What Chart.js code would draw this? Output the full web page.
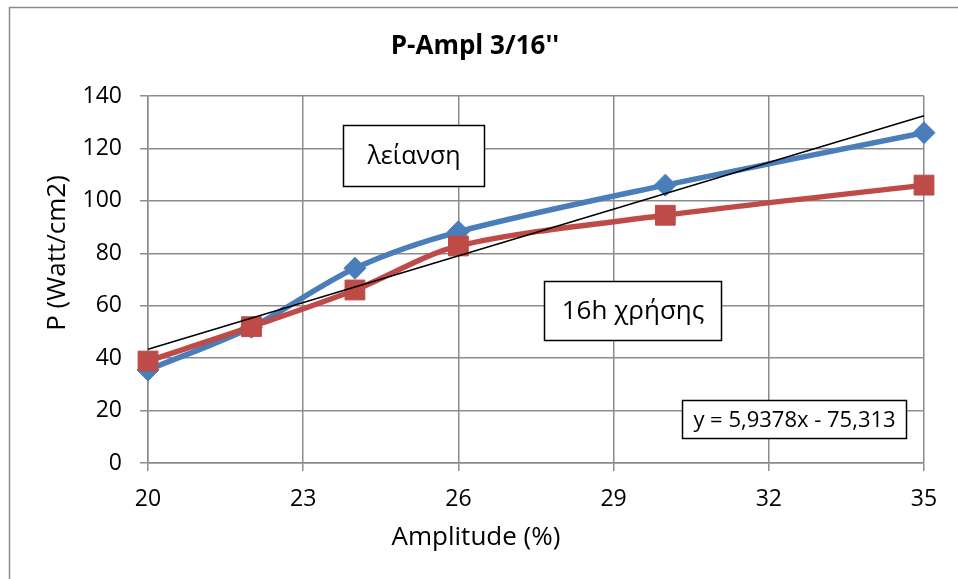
<!DOCTYPE html>
<html>
<head>
<meta charset="utf-8">
<script src="https://cdn.jsdelivr.net/npm/chart.js@4/dist/chart.umd.min.js"></script>
<style>
  html, body { margin: 0; padding: 0; background: #fff; }
  #wrap { width: 958px; height: 579px; position: relative; }
</style>
</head>
<body>
<div id="wrap"><canvas id="pChart" width="958" height="579"></canvas></div>
<script>
// values
const amplitudes = [20, 22, 24, 26, 30, 35];
const polished = [35.5, 51.8, 74.3, 88.2, 106, 126];   // λείανση
const used16h = [38.9, 52, 66, 82.8, 94.5, 106];       // 16h χρήσης
const trendX = [20, 35];
const trendY = [43.4, 132.5];                          // y = 5,9378x - 75,313
const xTicks = [20, 23, 26, 29, 32, 35];

const FONT = "'Open Sans', 'Noto Sans', sans-serif";

const toPoints = (xs, ys) => xs.map((x, i) => ({ x: x, y: ys[i] }));

const extras = {
  id: 'extras',
  beforeDraw(chart) {
    const ctx = chart.ctx;
    ctx.save();
    ctx.strokeStyle = '#8c8c8c';
    ctx.lineWidth = 1.5;
    ctx.strokeRect(9.5, 7.5, 1000, 700);
    ctx.restore();
  },
  afterDraw(chart) {
    const ctx = chart.ctx;
    ctx.save();
    ctx.fillStyle = '#000';
    ctx.textAlign = 'center';
    ctx.textBaseline = 'middle';
    ctx.font = "bold 26px " + FONT;
    ctx.fillText("P-Ampl 3/16''", 475, 47);

    // axis titles, centred the way the original is
    ctx.font = "26px " + FONT;
    ctx.fillText('Amplitude (%)', 476, 538);
    ctx.save();
    ctx.translate(58, 253);
    ctx.rotate(-Math.PI / 2);
    ctx.fillText('P (Watt/cm2)', 0, 0);
    ctx.restore();

    const box = (x, y, w, h, text, size) => {
      ctx.fillStyle = '#fff';
      ctx.fillRect(x, y, w, h);
      ctx.strokeStyle = '#000';
      ctx.lineWidth = 1.5;
      ctx.strokeRect(x, y, w, h);
      ctx.fillStyle = '#000';
      ctx.font = size + "px " + FONT;
      ctx.fillText(text, x + w / 2, y + h / 2 + 1);
    };
    box(343.5, 125.5, 141, 61, 'λείανση', 25);
    box(544.5, 281.5, 177, 59, '16h χρήσης', 26);
    box(682.5, 400.5, 224, 38, 'y = 5,9378x - 75,313', 22);
    ctx.restore();
  }
};

new Chart(document.getElementById('pChart'), {
  type: 'scatter',
  data: {
    datasets: [
      {
        label: 'trend',
        data: toPoints(trendX, trendY),
        showLine: true,
        borderColor: '#000',
        borderWidth: 1.5,
        pointRadius: 0,
        clip: false,
        order: 0
      },
      {
        label: 'λείανση',
        data: toPoints(amplitudes, polished),
        showLine: true,
        borderColor: '#4a7ebb',
        backgroundColor: '#4a7ebb',
        borderWidth: 5.5,
        tension: 0.3,
        pointStyle: 'rectRot',
        pointRadius: 11,
        pointBorderWidth: 1,
        clip: false,
        order: 2
      },
      {
        label: '16h χρήσης',
        data: toPoints(amplitudes, used16h),
        showLine: true,
        borderColor: '#be4b48',
        backgroundColor: '#be4b48',
        borderWidth: 5.5,
        tension: 0.3,
        pointStyle: 'rect',
        pointRadius: 14,
        pointBorderWidth: 1,
        clip: false,
        order: 1
      }
    ]
  },
  options: {
    responsive: false,
    animation: false,
    layout: { padding: { top: 96, right: 34, bottom: 0, left: 0 } },
    plugins: {
      legend: { display: false },
      tooltip: { enabled: false }
    },
    scales: {
      x: {
        type: 'linear',
        min: 20,
        max: 35,
        afterFit(scale) { scale.height = 116; },
        afterBuildTicks(scale) { scale.ticks = xTicks.map(v => ({ value: v })); },
        grid: { color: '#8c8c8c', lineWidth: 1.5, tickLength: 8 },
        border: { color: '#8c8c8c', width: 1.5 },
        ticks: { color: '#000', font: { family: FONT, size: 23 }, padding: 15 }
      },
      y: {
        min: 0,
        max: 140,
        afterFit(scale) { scale.width = 148; },
        grid: { color: '#8c8c8c', lineWidth: 1.5, tickLength: 8 },
        border: { color: '#8c8c8c', width: 1.5 },
        ticks: { stepSize: 20, color: '#000', font: { family: FONT, size: 23 }, padding: 18 }
      }
    }
  },
  plugins: [extras]
});
</script>
</body>
</html>
